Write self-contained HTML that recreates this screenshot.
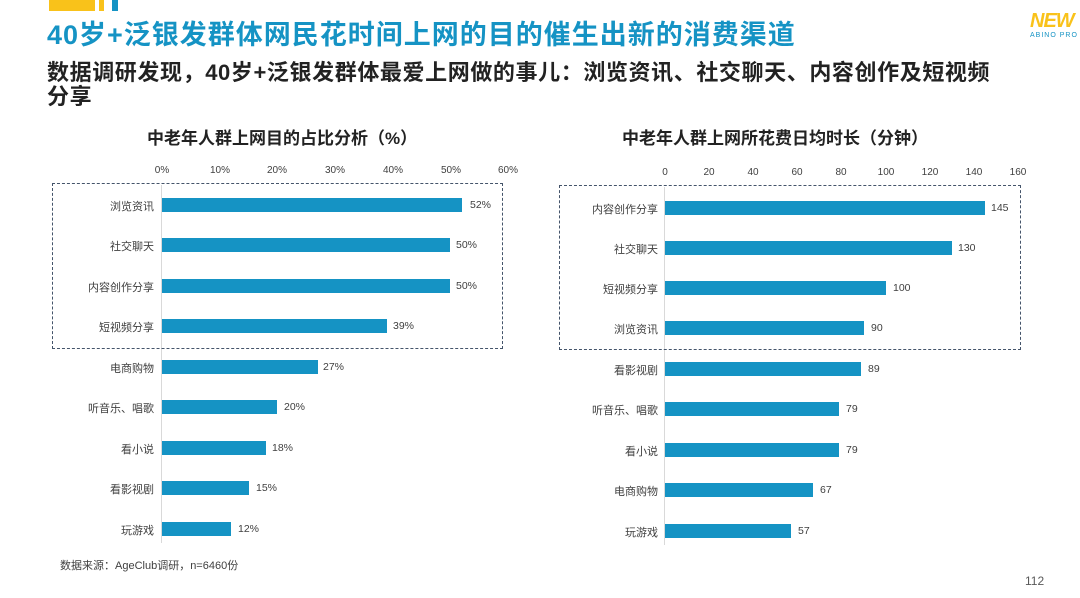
<!DOCTYPE html>
<html><head><meta charset="utf-8"><style>
body{margin:0;width:1080px;height:598px;overflow:hidden;background:#fff;position:relative;font-family:"Liberation Sans","Noto Sans CJK SC",sans-serif}
.a{position:absolute;white-space:nowrap}
.b{position:absolute;height:14px;background:#1593c4}
.l{position:absolute;font-size:11px;color:#404040;text-align:right;width:120px}
.v{position:absolute;font-size:10.5px;color:#404040}
.t{position:absolute;font-size:10px;color:#404040;width:40px;text-align:center}
</style></head><body>
<div class="a" style="left:49px;top:0;width:46px;height:11px;background:#f9c21a"></div>
<div class="a" style="left:99px;top:0;width:5px;height:11px;background:#f9c21a"></div>
<div class="a" style="left:112px;top:0;width:6px;height:11px;background:#1593c4"></div>
<div class="a" style="left:47px;top:13px;font-size:27px;letter-spacing:1px;font-weight:bold;color:#1593c4">40岁+泛银发群体网民花时间上网的目的催生出新的消费渠道</div>
<div class="a" style="left:1030px;top:10px;font-size:20px;font-weight:bold;color:#f9c21a;font-style:italic;letter-spacing:-1px">NEW</div>
<div class="a" style="left:1030px;top:32px;font-size:7px;color:#1593c4;letter-spacing:1px">ABINO PRO</div>
<div class="a" style="left:47px;top:61px;font-size:22px;letter-spacing:0.6px;font-weight:bold;color:#222;line-height:24px">数据调研发现，40岁+泛银发群体最爱上网做的事儿：浏览资讯、社交聊天、内容创作及短视频<br>分享</div>
<div class="a" style="left:147px;top:124px;font-size:17px;font-weight:bold;color:#222">中老年人群上网目的占比分析（%）</div>
<div class="a" style="left:622px;top:124px;font-size:17px;font-weight:bold;color:#222">中老年人群上网所花费日均时长（分钟）</div>
<!-- left -->
<div class="t" style="left:142px;top:165px">0%</div><div class="t" style="left:200px;top:165px">10%</div><div class="t" style="left:257px;top:165px">20%</div><div class="t" style="left:315px;top:165px">30%</div><div class="t" style="left:373px;top:165px">40%</div><div class="t" style="left:431px;top:165px">50%</div><div class="t" style="left:488px;top:165px">60%</div>
<div class="a" style="left:161px;top:185px;width:1px;height:358px;background:#d9d9d9"></div>
<div class="a" style="left:52px;top:183px;width:449px;height:164px;border:1.3px dashed #44546a"></div>
<div class="l" style="left:34px;top:198px">浏览资讯</div><div class="b" style="left:162px;top:198px;width:300px"></div><div class="v" style="left:470px;top:199px">52%</div>
<div class="l" style="left:34px;top:238px">社交聊天</div><div class="b" style="left:162px;top:238px;width:288px"></div><div class="v" style="left:456px;top:239px">50%</div>
<div class="l" style="left:34px;top:279px">内容创作分享</div><div class="b" style="left:162px;top:279px;width:288px"></div><div class="v" style="left:456px;top:280px">50%</div>
<div class="l" style="left:34px;top:319px">短视频分享</div><div class="b" style="left:162px;top:319px;width:225px"></div><div class="v" style="left:393px;top:320px">39%</div>
<div class="l" style="left:34px;top:360px">电商购物</div><div class="b" style="left:162px;top:360px;width:156px"></div><div class="v" style="left:323px;top:361px">27%</div>
<div class="l" style="left:34px;top:400px">听音乐、唱歌</div><div class="b" style="left:162px;top:400px;width:115px"></div><div class="v" style="left:284px;top:401px">20%</div>
<div class="l" style="left:34px;top:441px">看小说</div><div class="b" style="left:162px;top:441px;width:104px"></div><div class="v" style="left:272px;top:442px">18%</div>
<div class="l" style="left:34px;top:481px">看影视剧</div><div class="b" style="left:162px;top:481px;width:87px"></div><div class="v" style="left:256px;top:482px">15%</div>
<div class="l" style="left:34px;top:522px">玩游戏</div><div class="b" style="left:162px;top:522px;width:69px"></div><div class="v" style="left:238px;top:523px">12%</div>
<!-- right -->
<div class="t" style="left:645px;top:167px">0</div><div class="t" style="left:689px;top:167px">20</div><div class="t" style="left:733px;top:167px">40</div><div class="t" style="left:777px;top:167px">60</div><div class="t" style="left:821px;top:167px">80</div><div class="t" style="left:866px;top:167px">100</div><div class="t" style="left:910px;top:167px">120</div><div class="t" style="left:954px;top:167px">140</div><div class="t" style="left:998px;top:167px">160</div>
<div class="a" style="left:664px;top:187px;width:1px;height:358px;background:#d9d9d9"></div>
<div class="a" style="left:559px;top:185px;width:460px;height:163px;border:1.3px dashed #44546a"></div>
<div class="l" style="left:538px;top:201px">内容创作分享</div><div class="b" style="left:665px;top:201px;width:320px"></div><div class="v" style="left:991px;top:202px">145</div>
<div class="l" style="left:538px;top:241px">社交聊天</div><div class="b" style="left:665px;top:241px;width:287px"></div><div class="v" style="left:958px;top:242px">130</div>
<div class="l" style="left:538px;top:281px">短视频分享</div><div class="b" style="left:665px;top:281px;width:221px"></div><div class="v" style="left:893px;top:282px">100</div>
<div class="l" style="left:538px;top:321px">浏览资讯</div><div class="b" style="left:665px;top:321px;width:199px"></div><div class="v" style="left:871px;top:322px">90</div>
<div class="l" style="left:538px;top:362px">看影视剧</div><div class="b" style="left:665px;top:362px;width:196px"></div><div class="v" style="left:868px;top:363px">89</div>
<div class="l" style="left:538px;top:402px">听音乐、唱歌</div><div class="b" style="left:665px;top:402px;width:174px"></div><div class="v" style="left:846px;top:403px">79</div>
<div class="l" style="left:538px;top:443px">看小说</div><div class="b" style="left:665px;top:443px;width:174px"></div><div class="v" style="left:846px;top:444px">79</div>
<div class="l" style="left:538px;top:483px">电商购物</div><div class="b" style="left:665px;top:483px;width:148px"></div><div class="v" style="left:820px;top:484px">67</div>
<div class="l" style="left:538px;top:524px">玩游戏</div><div class="b" style="left:665px;top:524px;width:126px"></div><div class="v" style="left:798px;top:525px">57</div>
<div class="a" style="left:60px;top:557px;font-size:11px;color:#404040">数据来源：AgeClub调研，n=6460份</div>
<div class="a" style="left:1025px;top:574px;font-size:12px;color:#595959">112</div>
</body></html>
